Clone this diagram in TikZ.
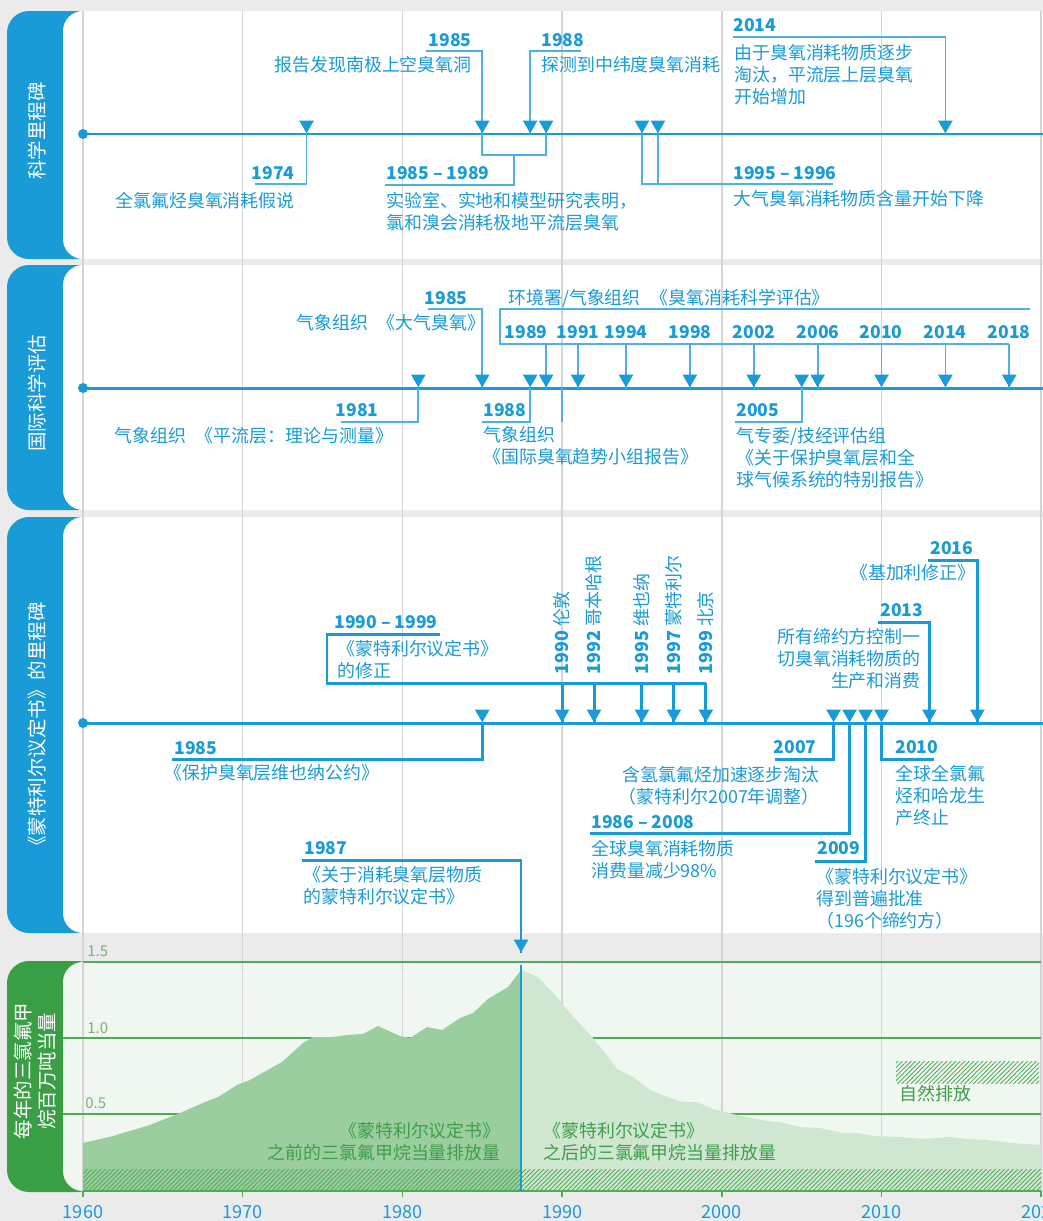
\documentclass[tikz,border=0pt]{standalone}
\usepackage{fontspec}
\setmainfont{Noto Sans CJK SC}
\usepackage{tikz}
\usetikzlibrary{positioning,shapes.geometric,patterns.meta}
\usepackage{xcolor}
\definecolor{ozblue}{HTML}{199BD8}
\definecolor{ozthin}{HTML}{4FB1E2}
\definecolor{pagegrey}{HTML}{EBEBEB}
\definecolor{gridgrey}{HTML}{D4D4D4}
\definecolor{tabgreen}{HTML}{3A9E45}
\definecolor{chartbg}{HTML}{F0F7F0}
\definecolor{preflow}{HTML}{9BCE9F}
\definecolor{postflow}{HTML}{CFE7D1}
\definecolor{chline}{HTML}{4FAB57}
\definecolor{notegreen}{HTML}{3E9F48}
\definecolor{axgreen}{HTML}{74B378}
\newcommand{\gapsp}{\hspace{0.55em}}

\tikzset{
  evtext/.style={text=ozblue, inner sep=0pt, font=\fontsize{10.2}{12.6}\selectfont},
  yrlabel/.style={text=ozblue, inner sep=0pt, font=\fontsize{10}{12}\selectfont\bfseries},
  tablabel/.style={text=white, inner sep=0pt, rotate=90, align=center, font=\fontsize{11.1}{13.4}\selectfont},
  chartnote/.style={text=notegreen, inner sep=0pt, font=\fontsize{10.2}{12.6}\selectfont},
  axlabel/.style={text=axgreen, inner sep=0pt, font=\fontsize{8.5}{10}\selectfont},
  axyear/.style={text=ozblue, inner sep=0pt, font=\fontsize{10.3}{12}\selectfont},
  marker/.style={regular polygon, regular polygon sides=3, shape border rotate=180,
    fill=ozblue, inner sep=0pt, minimum size=0.34cm, anchor=corner 1},
  startdot/.style={circle, fill=ozblue, inner sep=0pt, minimum size=0.2cm},
  tline/.style={ozblue, line width=1.7pt},
  thinconn/.style={ozthin, line width=1pt},
  thickconn/.style={ozblue, line width=1.7pt},
  gridln/.style={gridgrey, line width=0.85pt},
  levelln/.style={chline, line width=0.75pt},
  hatch/.style={pattern={Lines[angle=45, distance=1.8pt, line width=0.5pt]}, pattern color=chline},
}

\begin{document}
\begin{tikzpicture}[x=0.02cm, y=-0.02cm,
  declare function={yx(\t)=83+(\t-1960)*15.97;}]
\useasboundingbox (0,0) rectangle (1043,1221);
\fill[pagegrey] (0,0) rectangle (1043,1221);

% tabs and panels
\fill[ozblue, rounded corners=0.44cm] (7,11) rectangle (100,259);
\fill[ozblue, rounded corners=0.44cm] (7,265) rectangle (100,510);
\fill[ozblue, rounded corners=0.44cm] (7,517) rectangle (100,933);
\fill[tabgreen, rounded corners=0.44cm] (7,961) rectangle (100,1192);
\fill[white, rounded corners=0.4cm] (63,11) rectangle (1090,259);
\fill[white, rounded corners=0.4cm] (63,265) rectangle (1090,510);
\fill[white, rounded corners=0.4cm] (63,517) rectangle (1090,933);
\fill[chartbg, rounded corners=0.4cm] (63,962) rectangle (130,1191);
\fill[chartbg] (100,962) rectangle (1041,1191);

\node[tablabel] (tab1) at (37,131) {科学里程碑};
\node[tablabel] (tab2) at (37,393) {国际科学评估};
\node[tablabel] (tab3) at (37,729) {《蒙特利尔议定书》的里程碑};
\node[tablabel] (tab4) at (35,1071) {每年的三氯氟甲\\烷百万吨当量};

% decade grid
\foreach \d in {1960,1970,...,2020}
  \draw[gridln] ({yx(\d)},11) -- ({yx(\d)},1191);

% chart
\draw[levelln] (83,962) -- (1041,962);
\draw[levelln] (63,1038) -- (1041,1038);
\draw[levelln] (63,1114) -- (1041,1114);
\node[axlabel, anchor=west] (v15) at (87,951) {1.5};
\node[axlabel, anchor=west] (v10) at (87,1028) {1.0};
\node[axlabel, anchor=west] (v05) at (85,1103) {0.5};

\fill[preflow] (83,1191) -- (83,1143) -- (113,1136) -- (150,1125) -- (180,1113)
  -- (205,1102) -- (218,1097) -- (237,1085) -- (250,1080) -- (282,1062)
  -- (303,1043) -- (313,1037) -- (333,1037) -- (347,1035) -- (363,1034)
  -- (378,1026) -- (400,1036) -- (410,1038) -- (427,1027) -- (442,1030)
  -- (460,1018) -- (473,1013) -- (488,999) -- (508,987) -- (521,970)
  -- (521,1191) -- cycle;
\fill[postflow] (521,1191) -- (521,970) -- (538,977) -- (557,997) -- (563,1005)
  -- (592,1037) -- (603,1050) -- (617,1069) -- (633,1077) -- (650,1090)
  -- (667,1097) -- (683,1102) -- (697,1102) -- (713,1109) -- (737,1115)
  -- (767,1121) -- (780,1122) -- (800,1127) -- (820,1128) -- (843,1133)
  -- (857,1133) -- (873,1136) -- (900,1137) -- (923,1139) -- (950,1137)
  -- (967,1139) -- (987,1140) -- (1013,1143) -- (1041,1145)
  -- (1041,1191) -- cycle;
\fill[hatch] (83,1169) rectangle (1041,1191);
\fill[hatch] (896,1061) rectangle (1039,1083);
\node[chartnote, anchor=west] (nat) at (899,1094) {自然排放};
\draw[chline, line width=0.85pt] (83,1191) -- (1041,1191);
\foreach \d in {1960,1970,...,2020} {
  \draw[chline, line width=0.85pt] ({yx(\d)},1191) -- ({yx(\d)},1197);
  \node[axyear] (ax\d) at ({yx(\d)},1212) {\d};
}
\node[chartnote, anchor=north east, align=right] (pre) at (501,1122)
  {《蒙特利尔议定书》\\之前的三氯氟甲烷当量排放量};
\node[chartnote, anchor=north west, align=left] (post) at (543,1122)
  {《蒙特利尔议定书》\\之后的三氯氟甲烷当量排放量};

% panel 1: science
\node[startdot] (d1) at (83,134) {};
\coordinate (e1) at (1043,134);
\draw[tline] (d1.center) -- (e1);
\coordinate (a74) at ({yx(1974)},134);
\coordinate (a85) at ({yx(1985)},134);
\coordinate (a88) at ({yx(1988)},134);
\coordinate (a89) at ({yx(1989)},134);
\coordinate (a95) at ({yx(1995)},134);
\coordinate (a96) at ({yx(1996)},134);
\coordinate (a14) at ({yx(2014)},134);
\coordinate (k74) at (255,184);
\coordinate (k85) at (426,51);
\coordinate (k88) at (581,51);
\coordinate (j8589) at (514,155);
\coordinate (k8589) at (385,185);
\coordinate (j9596) at (658,184);
\coordinate (k9596) at (833,184);
\coordinate (k14) at (733,37);
\draw[thinconn] (a74) |- (k74);
\draw[thinconn] (k85) -| (a85);
\draw[thinconn] (k88) -| (a88);
\draw[thinconn] (a85) |- (j8589) -| (a89);
\draw[thinconn] (j8589) |- (k8589);
\draw[thinconn] (a95) |- (k9596);
\draw[thinconn] (a96) -- (j9596);
\draw[thinconn] (k14) -| (a14);
\foreach \m in {a74,a85,a88,a89,a95,a96,a14}
  \node[marker] (m\m) at (\m) {};

\node[yrlabel, anchor=east] (y74) at (295,173) {1974};
\node[evtext, anchor=east] (t74) at (295,201) {全氯氟烃臭氧消耗假说};
\node[yrlabel, anchor=east] (y85) at (472,40) {1985};
\node[evtext, anchor=east] (t85) at (472,65) {报告发现南极上空臭氧洞};
\node[yrlabel, anchor=west] (y88) at (541,40) {1988};
\node[evtext, anchor=west] (t88) at (541,65) {探测到中纬度臭氧消耗};
\node[yrlabel, anchor=west] (y8589) at (386,173) {1985 – 1989};
\node[evtext, anchor=north west, align=left] (t8589) at (386,192)
  {实验室、实地和模型研究表明，\\氯和溴会消耗极地平流层臭氧};
\node[yrlabel, anchor=west] (y9596) at (733,173) {1995 – 1996};
\node[evtext, anchor=west] (t9596) at (733,199) {大气臭氧消耗物质含量开始下降};
\node[yrlabel, anchor=west] (y14) at (733,25) {2014};
\node[evtext, anchor=north west, align=left] (t14) at (734,44)
  {由于臭氧消耗物质逐步\\淘汰，平流层上层臭氧\\开始增加};

% panel 2: assessments
\node[startdot] (d2) at (83,388) {};
\coordinate (e2) at (1043,388);
\draw[tline] (d2.center) -- (e2);
\coordinate (b81) at ({yx(1981)},388);
\coordinate (b85) at ({yx(1985)},388);
\coordinate (b88) at ({yx(1988)},388);
\coordinate (b90) at ({yx(1990)},388);
\coordinate (b05) at ({yx(2005)},388);
\coordinate (k81) at (341,422);
\coordinate (k85b) at (428,309);
\coordinate (k88b) at (482,422);
\coordinate (k90b) at ({yx(1990)},422);
\coordinate (k05) at (735,422);
\draw[thinconn] (b81) |- (k81);
\draw[thinconn] (k85b) -| (b85);
\draw[thinconn] (b88) |- (k88b);
\draw[thinconn] (b90) -- (k90b);
\draw[thinconn] (b05) |- (k05);
\foreach \yy/\lx in {1989/526,1991/578,1994/626,1998/690,2002/754,2006/818,2010/881,2014/945,2018/1009} {
  \coordinate (b\yy) at ({yx(\yy)},388);
  \coordinate (r\yy) at ({yx(\yy)},344);
  \draw[thinconn] (r\yy) -- (b\yy);
  \node[yrlabel] (ya\yy) at (\lx,332) {\yy};
}
\coordinate (r0) at (1030,309);
\coordinate (r1) at (500,309);
\coordinate (r2) at (500,344);
\draw[thinconn] (r0) -- (r1) -- (r2) -- (r2018);
\foreach \m in {b81,b85,b88,b05,b1989,b1991,b1994,b1998,b2002,b2006,b2010,b2014,b2018}
  \node[marker] (m\m) at (\m) {};

\node[yrlabel, anchor=east] (y81) at (379,410) {1981};
\node[evtext, anchor=west] (t81) at (114,436) {气象组织\gapsp《平流层：理论与测量》};
\node[yrlabel, anchor=east] (y85b) at (468,298) {1985};
\node[evtext, anchor=west] (t85b) at (296,323) {气象组织\gapsp《大气臭氧》};
\node[yrlabel, anchor=west] (y88b) at (483,410) {1988};
\node[evtext, anchor=north west, align=left] (t88b) at (483,426)
  {气象组织\\《国际臭氧趋势小组报告》};
\node[evtext, anchor=west] (tass) at (508,298) {环境署/气象组织\gapsp《臭氧消耗科学评估》};
\node[yrlabel, anchor=west] (y05) at (736,410) {2005};
\node[evtext, anchor=north west, align=left] (t05) at (736,427)
  {气专委/技经评估组\\《关于保护臭氧层和全\\球气候系统的特别报告》};

% panel 3: Montreal Protocol
\node[startdot] (d3) at (83,723) {};
\coordinate (e3) at (1043,723);
\draw[tline] (d3.center) -- (e3);
\coordinate (c85) at ({yx(1985)},723);
\coordinate (c07) at ({yx(2007)},723);
\coordinate (c08) at ({yx(2008)},723);
\coordinate (c09) at ({yx(2009)},723);
\coordinate (c10) at ({yx(2010)},723);
\coordinate (c13) at ({yx(2013)},723);
\coordinate (c16) at ({yx(2016)},723);
\coordinate (c87) at (521,953);
\coordinate (k85c) at (172,759);
\coordinate (k07) at (775,759);
\coordinate (k08) at (590,833);
\coordinate (k09) at (815,861);
\coordinate (k10) at (934,759);
\coordinate (k13) at (878,622);
\coordinate (k16) at (928,560);
\coordinate (k87) at (302,860);
\draw[thickconn] (c85) |- (k85c);
\draw[thickconn] (c07) |- (k07);
\draw[thickconn] (c08) |- (k08);
\draw[thickconn] (c09) |- (k09);
\draw[thickconn] (c10) |- (k10);
\draw[thickconn] (k13) -| (c13);
\draw[thickconn] (k16) -| (c16);
\draw[thickconn] (k87) -| (c87);
\foreach \yy/\city in {1990/伦敦,1992/哥本哈根,1995/维也纳,1997/蒙特利尔,1999/北京} {
  \coordinate (c\yy) at ({yx(\yy)},723);
  \coordinate (g\yy) at ({yx(\yy)},683);
  \draw[thickconn] (g\yy) -- (c\yy);
  \node[evtext, rotate=90, anchor=west] (v\yy) at ({yx(\yy)},675) {{\bfseries\yy} \city};
}
\coordinate (h0) at (440,634);
\coordinate (h1) at (327,634);
\coordinate (h2) at (327,683);
\draw[thickconn] (h0) -- (h1) -- (h2) -- (g1999);
\coordinate (kc0) at (521,965);
\coordinate (kc1) at (521,1191);
\draw[thickconn] (kc0) -- (kc1);
\foreach \m in {c85,c1990,c1992,c1995,c1997,c1999,c07,c08,c09,c10,c13,c16,c87}
  \node[marker] (m\m) at (\m) {};

\node[yrlabel, anchor=west] (y85c) at (174,748) {1985};
\node[evtext, anchor=west] (t85c) at (164,773) {《保护臭氧层维也纳公约》};
\node[yrlabel, anchor=west] (y9099) at (334,622) {1990 – 1999};
\node[evtext, anchor=north west, align=left] (t9099) at (337,640)
  {《蒙特利尔议定书》\\的修正};
\node[yrlabel, anchor=east] (y07) at (817,747) {2007};
\node[evtext, anchor=north east, align=right] (t07) at (820,766)
  {含氢氯氟烃加速逐步淘汰\\（蒙特利尔2007年调整）};
\node[yrlabel, anchor=west] (y08) at (591,822) {1986 – 2008};
\node[evtext, anchor=north west, align=left] (t08) at (591,840)
  {全球臭氧消耗物质\\消费量减少98\%};
\node[yrlabel, anchor=west] (y09) at (817,848) {2009};
\node[evtext, anchor=north west, align=left] (t09) at (816,868)
  {《蒙特利尔议定书》\\得到普遍批准\\（196个缔约方）};
\node[yrlabel, anchor=west] (y10) at (895,747) {2010};
\node[evtext, anchor=north west, align=left] (t10) at (895,765)
  {全球全氯氟\\烃和哈龙生\\产终止};
\node[yrlabel, anchor=west] (y13) at (880,610) {2013};
\node[evtext, anchor=north east, align=right] (t13) at (921,628)
  {所有缔约方控制一\\切臭氧消耗物质的\\生产和消费};
\node[yrlabel, anchor=west] (y16) at (930,548) {2016};
\node[evtext, anchor=east] (t16) at (976,573) {《基加利修正》};
\node[yrlabel, anchor=west] (y87) at (304,848) {1987};
\node[evtext, anchor=north west, align=left] (t87) at (303,866)
  {《关于消耗臭氧层物质\\的蒙特利尔议定书》};
\end{tikzpicture}
\end{document}
